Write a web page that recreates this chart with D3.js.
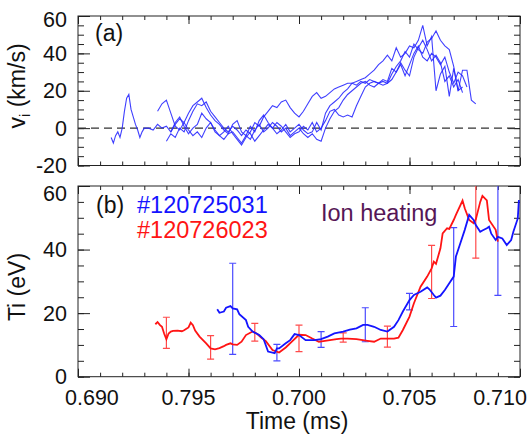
<!DOCTYPE html>
<html>
<head>
<meta charset="utf-8">
<script src="https://cdn.jsdelivr.net/npm/d3@7"></script>
<style>
  body { margin: 0; background: #fff; }
  svg { display: block; font-family: "Liberation Sans", Arial, sans-serif; }
</style>
</head>
<body>
<svg id="chart" width="528" height="434"></svg>
<script>
// ---- panel (a): ion flow velocity, four overlapping shots (km/s) ----
const earlyA = [[0.6915,-5],[0.6916,-8],[0.6917,-4],[0.6918,-2],[0.6919,-5],[0.6920,0],[0.6921,9],[0.6922,16],
  [0.6923,18],[0.6924,10],[0.6925,6],[0.6926,2],[0.6927,-1],[0.6928,-5],[0.6929,-2],[0.6930,0],[0.6932,0],
  [0.6934,-1],[0.6936,2],[0.6938,0]];
const earlyB = [[0.6936,9],[0.6938,13]];

const midTimes = [0.6940,0.6942,0.6944,0.6946,0.6948,0.6950,0.6952,0.6954,0.6956,0.6958,
  0.6960,0.6962,0.6964,0.6966,0.6968,0.6970,0.6972,0.6974,0.6976,0.6978,
  0.6980,0.6982,0.6984,0.6986,0.6988,0.6990,0.6992,0.6994,0.6996,0.6998,
  0.7000,0.7002,0.7004,0.7006,0.7008,0.7010,0.7012,0.7014,0.7016,0.7018,
  0.7020,0.7022,0.7024,0.7026,0.7028,0.7030,0.7032,0.7034,0.7036,0.7038,0.7040];
const midA = [1,-2,3,6,1,-3,0,2,8,5, 3,-1,-4,-2,1,-3,-6,-9,-5,-2, 3,1,6,9,12,11,14,15,11,8,
  6,9,13,17,19,16,17,19,21,22, 23,24,24,25,26,27,29,31,34,36, 39];
const midB = [15,8,1,-1,3,8,12,14,16,11, 7,4,2,-1,-3,2,4,-2,-4,1, -2,4,7,3,0,-3,-1,2,-2,0,
  2,-1,-3,-2,3,-1,8,12,14,16, 19,21,24,23,25,24,26,25,24,23, 24];
const midC = [-7,-3,-5,0,-2,4,9,13,12,14, 9,6,3,0,-2,1,-1,-4,-1,-3, -7,-4,-1,2,0,3,1,-2,-5,-3,
  -2,1,-1,3,-2,0,4,9,10,7, 6,7,6,12,17,22,24,25,24,26, 25];
const midD = [null,-2,2,5,3,-1,-4,-2,-5,0, 3,-2,-4,-6,-3,-2,-5,-8,-4,-6, -1,2,-2,0,3,1,-2,0,-4,-2,
  0,-3,-5,-3,-6,-7,0,5,9,11, 15,18,20,22,24,25,23,22,24,25, 24];

const lateTimes = [0.7042,0.7044,0.7046,0.7048,0.7050,0.7052,0.7054,0.7056,0.7058,0.7060,
  0.7062,0.7064,0.7066,0.7068,0.7070,0.7072,0.7074,0.7076,0.7078,0.7080];
const lateA = [36,43,38,40,44,43,47,55,44,49,20,29,33,17,32,20,31,31,15,13];
const lateB = [29,33,36,41,38,45,42,40,46,48,52,47,44,42,33,20,22,null,null,null];
const lateC = [32,30,34,28,34,40,44,38,36,40,38,34,38,30,24,30,28,22,null,null];
const lateD = [26,30,35,31,28,38,43,47,42,36,39,35,25,28,22,26,19,null,null,null];

// ---- panel (b): ion temperature (eV) ----
const shotBlue = '#120725031';
const shotRed = '#120726023';
const blueTi = [[0.6963,21.2],[0.6964,20.1],[0.6966,20.5],[0.6967,21.7],[0.6969,22.2],[0.6970,21.5],[0.6972,21.2],
  [0.6973,19.7],[0.6976,17.8],[0.6977,15.7],[0.6979,14.2],[0.6982,13.1],[0.6984,11.8],[0.6986,7.9],[0.6989,7.4],
  [0.6990,8.9],[0.6991,8.9],[0.6994,10.5],[0.6996,11.5],[0.6998,13.4],[0.7000,13.1],[0.7003,11.5],[0.7007,11.5],
  [0.7010,11.8],[0.7013,12.6],[0.7016,13.6],[0.7020,14.2],[0.7023,14.8],[0.7026,15.2],[0.7029,16.3],[0.7031,16.3],
  [0.7034,15.7],[0.7037,14.7],[0.7040,14.2],[0.7043,15.7],[0.7045,17.8],[0.7047,20.5],[0.7050,24.1],[0.7052,25.7],
  [0.7055,26.7],[0.7058,28.1],[0.7059,27.5],[0.7061,25.7],[0.7062,24.9],[0.7064,25.5],[0.7066,27.3],[0.7068,29.4],
  [0.7070,31.5],[0.7071,37.8],[0.7073,42],[0.7075,46.2],[0.7077,50.9],[0.7079,49.3],[0.7080,47.7],[0.7082,45.6],
  [0.7083,46],[0.7085,46.7],[0.7086,47.2],[0.7087,45],[0.7089,43],[0.7090,44],[0.7092,43.5],[0.7094,41.4],
  [0.7096,43],[0.7097,45.6],[0.7099,49.8],[0.70995,55.6]];
const redTi = [[0.6935,16.5],[0.6936,17.2],[0.6937,16.3],[0.6938,15.7],[0.6939,13.5],[0.6940,11.8],[0.6941,13.6],
  [0.6942,14.2],[0.6943,14.4],[0.6945,14.5],[0.6947,14.3],[0.6948,14.6],[0.6950,15.5],[0.6951,17],[0.6952,16.2],
  [0.6953,14.5],[0.6955,12.6],[0.6958,10.5],[0.6960,8.9],[0.6962,8.6],[0.6964,9],[0.6966,9.6],[0.6967,10],
  [0.6969,10.5],[0.6970,10.2],[0.6972,10],[0.6974,11],[0.6976,13.1],[0.6979,14.2],[0.6981,13.5],[0.6983,12.2],
  [0.6985,11.2],[0.6988,8.4],[0.6991,7.6],[0.6994,9.2],[0.6997,11.2],[0.7000,13.2],[0.7003,13.1],[0.7006,12],
  [0.7009,11],[0.7011,11.2],[0.7014,11.5],[0.7017,11.8],[0.7019,12],[0.7022,12],[0.7026,11.8],[0.7031,11.3],
  [0.7034,11],[0.7037,12],[0.7040,12],[0.7043,12],[0.7045,12.3],[0.7047,14.7],[0.7050,18.9],[0.7052,23.1],
  [0.7055,28.3],[0.7058,31.5],[0.7060,34.1],[0.7061,36.2],[0.7062,35.5],[0.7064,40.4],[0.7065,45.1],[0.7067,46.7],
  [0.7068,46.5],[0.7070,49.3],[0.7071,50.9],[0.7074,55.4],[0.7075,53],[0.7077,49.3],[0.7079,48.3],[0.7080,49.5],
  [0.7082,55],[0.7083,56.9],[0.7085,55.5],[0.7086,49.3],[0.7089,46.2],[0.7090,42.5]];

const blueErrTime = [0.697,0.699,0.701,0.703,0.705,0.707,0.709];
const blueErrLo = [7.0,5.0,9.2,11.0,21.0,15.8,25.6];
const blueErrHi = [35.7,10.2,14.2,21.7,26.2,46.9,63];
const redErrTime = [0.694,0.696,0.698,0.700,0.702,0.704,0.706,0.708];
const redErrLo = [8.9,5.5,11.2,7.9,10.9,9.3,24.6,37.3];
const redErrHi = [18.7,12.9,16.8,16.2,13.8,15.9,41.3,63];

// ---- axes ----
const timeTicks = [0.690,0.695,0.700,0.705,0.710];
const timeTickLabels = ['0.690','0.795','0.700','0.705','0.710'];
const viTicks = [-20,0,20,40,60];
const tiTicks = [0,20,40,60];

const svg = d3.select('#chart');
const x = d3.scaleLinear().domain([0.690, 0.710]).range([78, 520]);
const yA = d3.scaleLinear().domain([-20, 60]).range([165.5, 16]);
const yB = d3.scaleLinear().domain([0, 60]).range([376.7, 186]);

const ink = '#222';
const timeMinor = d3.range(0.690, 0.7101, 0.001);

function addAxis(axis, tx, ty) {
  svg.append('g')
    .attr('transform', `translate(${tx},${ty})`)
    .call(axis.tickFormat('').tickSizeOuter(0))
    .call((g) => g.select('.domain').remove())
    .selectAll('line').attr('stroke', ink).attr('stroke-width', 1);
}

function drawFrame(y, majors, id) {
  const [x0, x1] = x.range();
  const [yb, yt] = y.range();
  const minors = d3.range(y.domain()[0], y.domain()[1] + 0.1, 5);

  addAxis(d3.axisLeft(y).tickValues(minors).tickSize(-6), x0, 0);
  addAxis(d3.axisLeft(y).tickValues(majors).tickSize(-12), x0, 0);
  addAxis(d3.axisRight(y).tickValues(minors).tickSize(-6), x1, 0);
  addAxis(d3.axisRight(y).tickValues(majors).tickSize(-12), x1, 0);
  addAxis(d3.axisBottom(x).tickValues(timeMinor).tickSize(-4), 0, yb);
  addAxis(d3.axisBottom(x).tickValues(timeTicks).tickSize(-8), 0, yb);
  addAxis(d3.axisTop(x).tickValues(timeMinor).tickSize(-4), 0, yt);
  addAxis(d3.axisTop(x).tickValues(timeTicks).tickSize(-8), 0, yt);

  svg.append('rect')
    .attr('x', x0).attr('y', yt)
    .attr('width', x1 - x0).attr('height', yb - yt)
    .attr('fill', 'none').attr('stroke', ink).attr('stroke-width', 1);

  svg.append('clipPath').attr('id', id)
    .append('rect').attr('x', x0).attr('y', yt).attr('width', x1 - x0).attr('height', yb - yt);
}

function yLabels(y, ticks, topPad) {
  const top = y.range()[1];
  svg.append('g').selectAll('text')
    .data(ticks)
    .join('text')
    .attr('x', 67)
    .attr('y', (d) => Math.max(y(d), top + topPad))
    .attr('dy', '0.36em')
    .attr('text-anchor', 'end')
    .attr('font-size', 21.5)
    .attr('fill', '#111')
    .text((d) => d);
}

drawFrame(yA, viTicks, 'clipA');
drawFrame(yB, tiTicks, 'clipB');
yLabels(yA, viTicks, 3);
yLabels(yB, tiTicks, 7);

// time tick labels under panel (b)
svg.append('g').selectAll('text')
  .data(timeTicks)
  .join('text')
  .attr('x', (d) => x(d))
  .attr('dx', (d, i) => (i === 0 ? -13 : i === timeTicks.length - 1 ? 7 : 0))
  .attr('y', 405)
  .attr('text-anchor', (d, i) => (i === 0 ? 'start' : i === timeTicks.length - 1 ? 'end' : 'middle'))
  .attr('font-size', 21.5)
  .attr('fill', '#111')
  .text((d, i) => timeTickLabels[i]);

// ---- panel (a) traces ----
const zip = (times, vals) => times.map((t, i) => [t, vals[i]]).filter((d) => d[1] !== null);
const traces = [
  earlyA.concat(zip(midTimes, midA), zip(lateTimes, lateA)),
  earlyB.concat(zip(midTimes, midB), zip(lateTimes, lateB)),
  zip(midTimes, midC).concat(zip(lateTimes, lateC)),
  zip(midTimes, midD).concat(zip(lateTimes, lateD)),
];

svg.append('line')
  .attr('x1', x.range()[0]).attr('x2', x.range()[1])
  .attr('y1', yA(0)).attr('y2', yA(0))
  .attr('stroke', '#333').attr('stroke-width', 1.2)
  .attr('stroke-dasharray', '8,5');

const lineA = d3.line().x((d) => x(d[0])).y((d) => yA(d[1]));
svg.append('g').attr('clip-path', 'url(#clipA)')
  .selectAll('path')
  .data(traces)
  .join('path')
  .attr('d', lineA)
  .attr('fill', 'none')
  .attr('stroke', '#2a2aff')
  .attr('stroke-width', 1.1)
  .attr('stroke-opacity', 0.9);

// ---- panel (b) lines and error bars ----
const lineB = d3.line().x((d) => x(d[0])).y((d) => yB(d[1]));
const gB = svg.append('g').attr('clip-path', 'url(#clipB)');

function errorBars(times, lo, hi, color) {
  const g = gB.append('g').attr('stroke', color).attr('stroke-width', 1.2);
  times.forEach((t, i) => {
    const cx = x(t);
    g.append('line').attr('x1', cx).attr('x2', cx).attr('y1', yB(lo[i])).attr('y2', yB(hi[i]));
    [lo[i], hi[i]].forEach((v) => {
      g.append('line').attr('x1', cx - 3.5).attr('x2', cx + 3.5).attr('y1', yB(v)).attr('y2', yB(v));
    });
  });
}

errorBars(redErrTime, redErrLo, redErrHi, '#ff4a4a');
errorBars(blueErrTime, blueErrLo, blueErrHi, '#4a4aff');

gB.append('path').datum(redTi)
  .attr('d', lineB).attr('fill', 'none').attr('stroke', '#ff1414').attr('stroke-width', 1.8);
gB.append('path').datum(blueTi)
  .attr('d', lineB).attr('fill', 'none').attr('stroke', '#1414ff').attr('stroke-width', 1.8);

// ---- text ----
svg.append('text').attr('x', 95).attr('y', 41).attr('font-size', 23).attr('fill', '#111').text('(a)');
svg.append('text').attr('x', 96).attr('y', 212.5).attr('font-size', 23).attr('fill', '#111').text('(b)');
svg.append('text').attr('x', 137).attr('y', 213).attr('font-size', 23.5).attr('fill', '#1414ff').text(shotBlue);
svg.append('text').attr('x', 137).attr('y', 238).attr('font-size', 23.5).attr('fill', '#ff1414').text(shotRed);
svg.append('text').attr('x', 321).attr('y', 221).attr('font-size', 23.5).attr('fill', '#561656').text('Ion heating');

const vTitle = svg.append('text')
  .attr('transform', 'translate(25,86) rotate(-90)')
  .attr('text-anchor', 'middle').attr('font-size', 23).attr('fill', '#111');
vTitle.append('tspan').text('v');
vTitle.append('tspan').attr('font-size', 15).attr('dy', 5).text('i');
vTitle.append('tspan').attr('dy', -5).text(' (km/s)');

svg.append('text')
  .attr('transform', 'translate(25,287) rotate(-90)')
  .attr('text-anchor', 'middle').attr('font-size', 23).attr('fill', '#111')
  .text('Ti (eV)');

svg.append('text')
  .attr('x', 297).attr('y', 429)
  .attr('text-anchor', 'middle').attr('font-size', 23).attr('fill', '#111')
  .text('Time (ms)');
</script>
</body>
</html>
